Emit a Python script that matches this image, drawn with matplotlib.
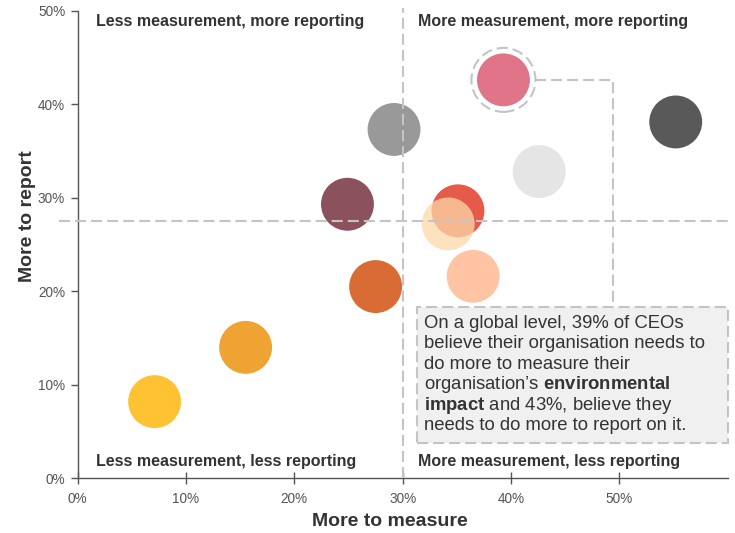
import matplotlib
matplotlib.use("Agg")
import matplotlib.pyplot as plt
from matplotlib.patches import Rectangle, Circle
from matplotlib.ticker import FuncFormatter

plt.rcParams["font.family"] = ["Liberation Sans", "DejaVu Sans"]
plt.rcParams["mathtext.fontset"] = "custom"
plt.rcParams["mathtext.rm"] = "Liberation Sans"
plt.rcParams["mathtext.bf"] = "Liberation Sans:bold"

# Share of CEOs saying their organisation must do more (%)
more_to_measure = [7.1, 15.5, 27.5, 24.9, 29.2, 55.2, 42.6, 35.1, 34.2, 36.5, 39.3]
more_to_report = [8.2, 14.0, 20.5, 29.3, 37.3, 38.1, 32.8, 28.6, 27.2, 21.6, 42.6]
bubble_colors = ["#FFC232", "#EFA333", "#D96B34", "#8B525D", "#999999", "#595959",
                 "#E5E5E5", "#E65A4A", "#FDD9A8", "#FEC4A4", "#E07488"]
bubble_alpha = [1, 1, 1, 1, 1, 1, 1, 1, 0.75, 1, 1]
highlight = 10  # global average bubble

x_ticks = [0, 10, 20, 30, 40, 50]
y_ticks = [0, 10, 20, 30, 40, 50]
x_split = 30
y_split = 27.5

quadrant_labels = ["Less measurement, more reporting", "More measurement, more reporting",
                   "Less measurement, less reporting", "More measurement, less reporting"]

fig = plt.figure(figsize=(7.35, 5.33), dpi=100)
ax = fig.add_axes([0.1057, 0.1026, 0.8844, 0.8774])
ax.set_xlim(0, 60)
ax.set_ylim(0, 50)

for x, y, c, a in zip(more_to_measure, more_to_report, bubble_colors, bubble_alpha):
    ax.scatter(x, y, s=1450, color=c, alpha=a, edgecolors="none", zorder=3)

dash_kw = dict(color="#C4C4C4", lw=1.5, dashes=(5.3, 2.4), zorder=4)
# quadrant split lines
ax.plot([-0.029, 1.0], [y_split, y_split], transform=ax.get_yaxis_transform(),
        clip_on=False, **dash_kw)
ax.plot([x_split, x_split], [0, 1.006], transform=ax.get_xaxis_transform(),
        clip_on=False, **dash_kw)

# ring and connector for the global bubble
hx, hy = more_to_measure[highlight], more_to_report[highlight]
px, py = ax.transData.transform((hx, hy))
ring = Circle((px, py), 32, transform=None, fill=False, ec="#C4C4C4", lw=1.5,
              linestyle=(0, (5.3, 2.4)), zorder=4)
ax.add_artist(ring)
ring.set_clip_on(False)

box_x0, box_x1, box_y0, box_y1 = 31.3, 60.0, 3.75, 18.35
elbow_x = 49.4
x_px = ax.transData.transform((1, 0))[0] - ax.transData.transform((0, 0))[0]
y_px = ax.transData.transform((0, 1))[1] - ax.transData.transform((0, 0))[1]
ring_edge_x = hx + 32 / x_px
ax.plot([ring_edge_x, elbow_x, elbow_x], [hy, hy, box_y1], **dash_kw)

box = Rectangle((box_x0, box_y0), box_x1 - box_x0, box_y1 - box_y0, facecolor="#F0F0F0",
                edgecolor="#C4C4C4", lw=1.5, linestyle=(0, (5.3, 2.4)), zorder=5,
                clip_on=False)
ax.add_patch(box)

note_lines = [
    f"On a global level, {hx:.0f}% of CEOs",
    "believe their organisation needs to",
    "do more to measure their",
    r"organisation’s $\mathbf{environmental}$",
    rf"$\mathbf{{impact}}$ and {hy:.0f}%, believe they",
    "needs to do more to report on it.",
]
line_h = 20.4 / y_px
first_y = (478.3 - 323.5) / y_px
for i, line in enumerate(note_lines):
    ax.text(31.95, first_y - i * line_h, line, fontsize=13.3, color="#333333",
            va="center", ha="left", zorder=6)

qkw = dict(fontsize=11.5, fontweight="bold", color="#333333", va="center", ha="left", zorder=6)
ax.text(1.7, 48.85, quadrant_labels[0], **qkw)
ax.text(31.4, 48.85, quadrant_labels[1], **qkw)
ax.text(1.7, 1.85, quadrant_labels[2], **qkw)
ax.text(31.4, 1.85, quadrant_labels[3], **qkw)

ax.set_xticks(x_ticks)
ax.set_yticks(y_ticks)
pct = FuncFormatter(lambda v, _: f"{v:.0f}%")
ax.xaxis.set_major_formatter(pct)
ax.yaxis.set_major_formatter(pct)
ax.tick_params(axis="x", direction="inout", length=9, width=1, colors="#555555",
               labelsize=9.8, labelcolor="#555555", pad=5)
ax.tick_params(axis="y", direction="out", length=5, width=1, colors="#555555",
               labelsize=9.8, labelcolor="#555555", pad=4)
for s in ["top", "right"]:
    ax.spines[s].set_visible(False)
for s in ["left", "bottom"]:
    ax.spines[s].set_color("#555555")
    ax.spines[s].set_linewidth(1)

fig.text(389.5 / 735, 1 - 521 / 533, "More to measure", fontsize=14, fontweight="bold",
         color="#333333", ha="center", va="center")
fig.text(27 / 735, 1 - 216 / 533, "More to report", fontsize=14, fontweight="bold",
         color="#333333", ha="center", va="center", rotation=90)

fig.savefig("out.png", dpi=100)
